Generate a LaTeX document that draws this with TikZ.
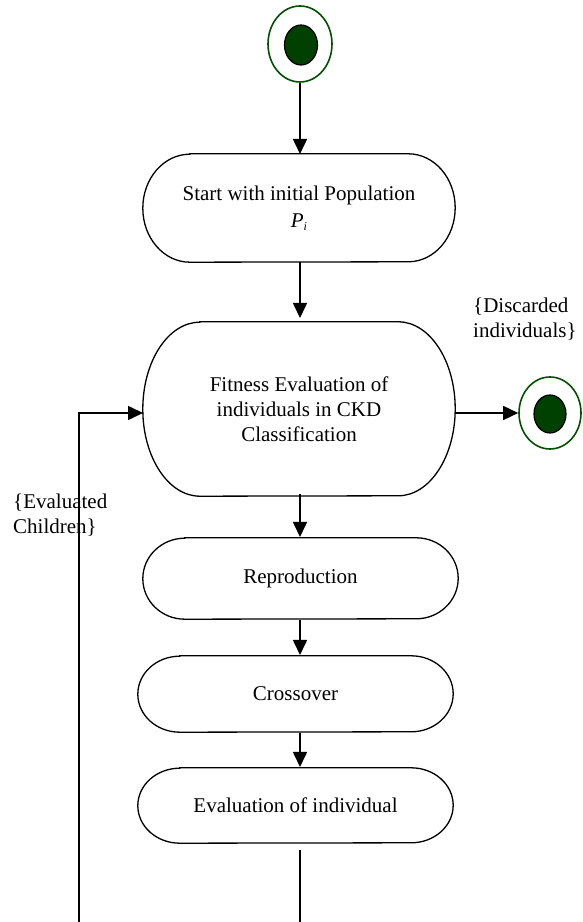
\documentclass[tikz,border=0pt]{standalone}
\usepackage{fontspec}
\setmainfont{Liberation Serif}
\usetikzlibrary{arrows.meta,shapes.geometric}
\definecolor{dkgreen}{RGB}{0,64,0}
\definecolor{ringgreen}{RGB}{0,80,0}
\tikzset{
  txt/.style={inner sep=0pt, align=center, font=\fontsize{21}{25}\selectfont},
  lbl/.style={inner sep=0pt, align=left, font=\fontsize{21}{25}\selectfont},
  outline/.style={draw=black, line width=1.3pt},
  conn/.style={draw=black, line width=1.6pt, -{Triangle[width=14pt,length=15pt]}},
  plain/.style={draw=black, line width=1.6pt},
  ring/.style={draw=ringgreen, line width=1.6pt, fill=white},
  dot/.style={draw=black, line width=1.2pt, fill=dkgreen},
}
% \capsule{name}{rx}{ry}
\newcommand\capsule[3]{%
  \draw[outline] ([xshift=#2]#1.north west) -- ([xshift=-#2]#1.north east)
    arc[start angle=90, end angle=-90, x radius=#2, y radius=#3]
    -- ([xshift=#2]#1.south west)
    arc[start angle=270, end angle=90, x radius=#2, y radius=#3] -- cycle;}
\begin{document}
\begin{tikzpicture}[x=1pt,y=1pt]
\useasboundingbox (0,0) rectangle (582,922);
% start state
\node[ring, ellipse, minimum width=64pt, minimum height=76pt, inner sep=0pt] (init) at (300,878) {};
\draw[dot] (301,877) ellipse [x radius=16.5pt, y radius=20pt];
% end state
\node[ring, ellipse, minimum width=62pt, minimum height=72pt, inner sep=0pt] (final) at (550,509) {};
\draw[dot] (550,508) ellipse [x radius=16pt, y radius=19pt];
% activity nodes
\node[txt, minimum width=312pt, minimum height=108pt] (start) at (299,714)
  {Start with initial Population\\[2pt] \textit{P}\raisebox{-0.35ex}{\fontsize{12}{12}\selectfont\textit{i}}};
\node[txt, minimum width=312pt, minimum height=174pt] (fit) at (299,513)
  {Fitness Evaluation of\\individuals in CKD\\Classification};
\node[txt, minimum width=315pt, minimum height=81pt] (rep) at (300.5,343.5) {Reproduction};
\node[txt, minimum width=315pt, minimum height=76pt] (cross) at (295.5,228) {Crossover};
\node[txt, minimum width=315pt, minimum height=75pt] (evalind) at (295.5,116.5) {Evaluation of individual};
\capsule{start}{47pt}{54pt}
\capsule{fit}{57pt}{87pt}
\capsule{rep}{42pt}{40.5pt}
\capsule{cross}{42pt}{38pt}
\capsule{evalind}{42pt}{37.5pt}
% labels
\node[lbl, anchor=north west] (disc) at (473,624) {\{Discarded\\individuals\}};
\node[lbl, anchor=north west] (evch) at (13,428) {\{Evaluated\\Children\}};
% coordinates for loop
\coordinate (outA) at (300,72);
\coordinate (outB) at (300,0);
\coordinate (loopA) at (79,0);
\coordinate (loopB) at (79,509);
% connectors
\draw[conn] (init.south) -- (300,768);
\draw[conn] (300,660) -- (300,604);
\draw[conn] (455,509) -- (final.west);
\draw[conn] (300,428) -- (300,385);
\draw[conn] (300,302) -- (300,267);
\draw[conn] (300,189) -- (300,155);
\draw[plain] (outA) -- (outB);
\draw[conn] (loopA) -- (loopB) -- (143,509);
\end{tikzpicture}
\end{document}
